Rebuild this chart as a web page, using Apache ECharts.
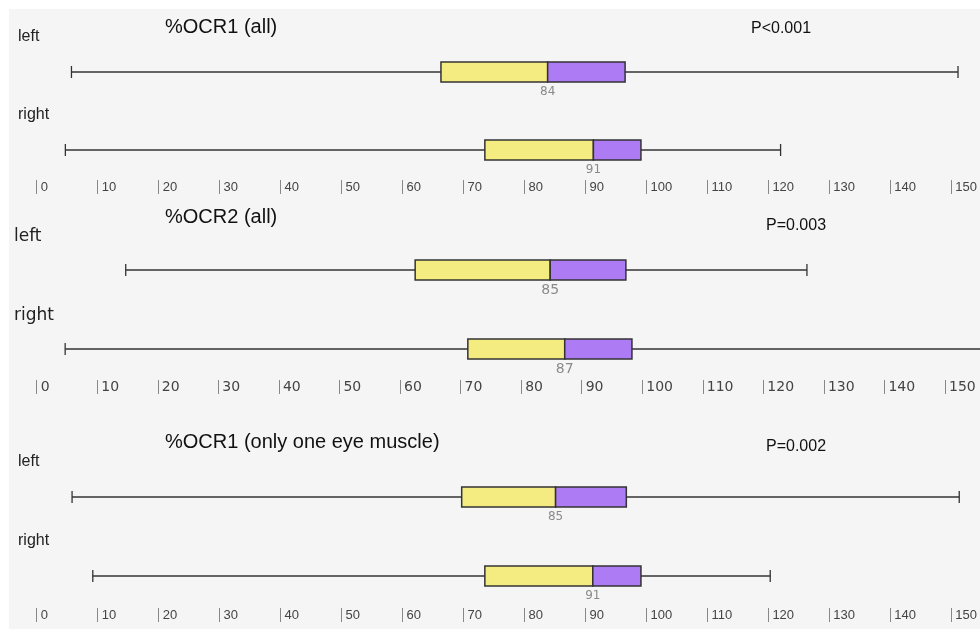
<!DOCTYPE html>
<html>
<head>
<meta charset="utf-8">
<script src="https://cdn.jsdelivr.net/npm/echarts@6/dist/echarts.min.js"></script>
<style>html,body{margin:0;padding:0;background:#fff}#c{width:980px;height:629px}</style>
</head>
<body>
<div id="c"></div>
<script>
// ---- data ----
const categories = ['left', 'right'];
const panelTitles = ['%OCR1 (all)', '%OCR2 (all)', '%OCR1 (only one eye muscle)'];
const pValues = ['P<0.001', 'P=0.003', 'P=0.002'];
const axisMin = 0, axisMax = 150, axisStep = 10;
// [min, Q1, median, Q3, max]
const ocr1AllLeft  = [5.7, 66.3, 83.8, 96.5, 151.1];
const ocr1AllRight = [4.7, 73.5, 91.3, 99.1, 122.0];
const ocr2AllLeft  = [14.7, 62.5, 84.8, 97.3, 127.2];
const ocr2AllRight = [4.7, 71.2, 87.2, 98.3, 160.0];
const ocr1OneLeft  = [5.8, 69.7, 85.1, 96.7, 151.3];
const ocr1OneRight = [9.2, 73.5, 91.2, 99.1, 120.3];
const panels = [
  [ocr1AllLeft, ocr1AllRight],
  [ocr2AllLeft, ocr2AllRight],
  [ocr1OneLeft, ocr1OneRight]
];

// ---- layout / style ----
const layout = [
  {top: 33,    height: 156, right: 27, offset: -9,   titleY: 27,  pX: 751, pY: 29,  catFont: '16px "Liberation Sans"', tickFont: 13, tickFamily: 'Liberation Sans', medFont: 12},
  {top: 230.5, height: 158, right: 35, offset: -8.5, titleY: 217, pX: 766, pY: 226, catFont: '17px "DejaVu Sans"',   tickFont: 14, tickFamily: 'DejaVu Sans',     medFont: 14},
  {top: 457.5, height: 158, right: 27, offset: -7.5, titleY: 442, pX: 766, pY: 447, catFont: '16px "Liberation Sans"', tickFont: 13, tickFamily: 'Liberation Sans', medFont: 12}
];
const GRID_LEFT = 36.7;
const YELLOW = '#f4ec80', PURPLE = '#ad7bf3', EDGE = '#333';

function renderItem(params, api) {
  const cat = api.value(0);
  const vals = [api.value(1), api.value(2), api.value(3), api.value(4), api.value(5)];
  const p = vals.map(v => api.coord([v, cat]));
  const y = p[0][1];
  const h = 20, cap = 6;
  const fs = layout[params.seriesIndex].medFont;
  return {
    type: 'group',
    children: [
      {type: 'line', shape: {x1: p[0][0], y1: y, x2: p[4][0], y2: y}, style: {stroke: EDGE, lineWidth: 1.3}},
      {type: 'line', shape: {x1: p[0][0], y1: y - cap, x2: p[0][0], y2: y + cap}, style: {stroke: EDGE, lineWidth: 1.3}},
      {type: 'line', shape: {x1: p[4][0], y1: y - cap, x2: p[4][0], y2: y + cap}, style: {stroke: EDGE, lineWidth: 1.3}},
      {type: 'rect', shape: {x: p[1][0], y: y - h / 2, width: p[2][0] - p[1][0], height: h}, style: {fill: YELLOW, stroke: EDGE, lineWidth: 1.5}},
      {type: 'rect', shape: {x: p[2][0], y: y - h / 2, width: p[3][0] - p[2][0], height: h}, style: {fill: PURPLE, stroke: EDGE, lineWidth: 1.5}},
      {type: 'text', x: p[2][0], y: y + h / 2 + 10,
        style: {text: String(Math.round(vals[2])), fill: '#8a8a8a', font: fs + 'px "DejaVu Sans"', align: 'center', verticalAlign: 'middle'}}
    ]
  };
}

const grids = [], xAxes = [], yAxes = [], series = [], graphics = [];
graphics.push({type: 'rect', z: -10, shape: {x: 9, y: 9, width: 971, height: 620}, style: {fill: '#f5f5f5'}});

panels.forEach((boxes, i) => {
  const L = layout[i];
  grids.push({left: GRID_LEFT, top: L.top, height: L.height, right: L.right});
  xAxes.push({
    type: 'value', gridIndex: i, min: axisMin, max: axisMax, interval: axisStep, offset: L.offset,
    axisLine: {show: false}, splitLine: {show: false},
    axisTick: {show: true, length: 14, lineStyle: {color: '#888', width: 1}},
    axisLabel: {align: 'left', verticalAlign: 'middle', margin: 7, padding: [0, 0, 0, 4],
      color: '#444', fontSize: L.tickFont, fontFamily: L.tickFamily}
  });
  yAxes.push({
    type: 'category', gridIndex: i, data: categories, inverse: true,
    axisLine: {show: false}, axisTick: {show: false}, splitLine: {show: false},
    axisLabel: {show: false}
  });
  series.push({
    type: 'custom', xAxisIndex: i, yAxisIndex: i, renderItem: renderItem,
    encode: {x: [1, 2, 3, 4, 5], y: 0},
    data: boxes.map((b, k) => [k].concat(b))
  });
  graphics.push({type: 'text', x: 165, y: L.titleY,
    style: {text: panelTitles[i], font: '20px "Liberation Sans"', fill: '#111', verticalAlign: 'middle'}});
  graphics.push({type: 'text', x: L.pX, y: L.pY,
    style: {text: pValues[i], font: '16px "Liberation Sans"', fill: '#111', verticalAlign: 'middle'}});
});

const chart = echarts.init(document.getElementById('c'));
chart.setOption({
  backgroundColor: '#ffffff',
  animation: false,
  grid: grids, xAxis: xAxes, yAxis: yAxes, series: series, graphic: graphics
});

// category labels ("left"/"right") placed above each box, using the y scale
function placeCatLabels() {
  const extra = [];
  panels.forEach((boxes, i) => {
    categories.forEach((c, k) => {
      const py = chart.convertToPixel({yAxisIndex: i}, k);
      const xPos = i === 1 ? 14 : 18;
      extra.push({type: 'text', x: xPos, y: py - (i === 1 ? 33 : 35),
        style: {text: c, font: layout[i].catFont, fill: '#222', verticalAlign: 'middle'}});
    });
  });
  chart.setOption({graphic: graphics.concat(extra)});
}
placeCatLabels();
</script>
</body>
</html>
